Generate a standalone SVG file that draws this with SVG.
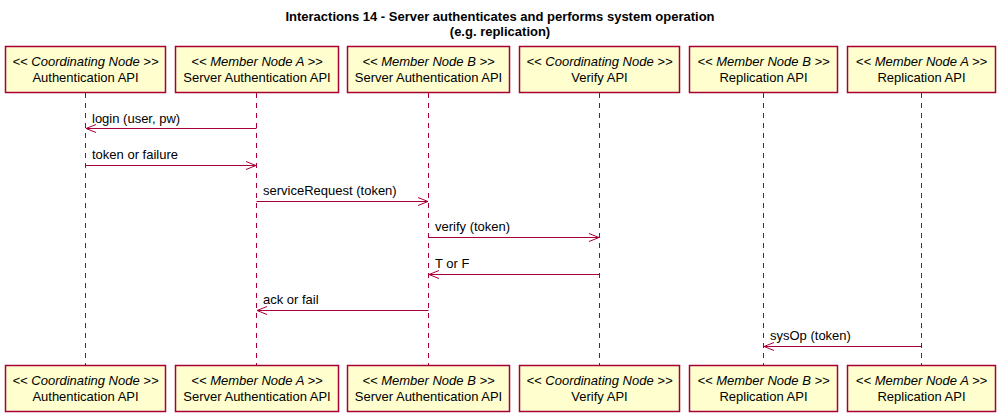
<svg xmlns="http://www.w3.org/2000/svg" width="1001" height="413" viewBox="0 0 1001 413">
<style>
.box{fill:#FEFECE;stroke:#A80036;stroke-width:1.5}
.life{stroke:#A80036;stroke-width:1;stroke-dasharray:5,5;fill:none}
.msg{stroke:#A80036;stroke-width:1;fill:none}
.t{font-family:"Liberation Sans",Arial,sans-serif;font-size:13px;fill:#000}
.c{text-anchor:middle}
.i{font-style:italic}
.title{font-family:"Liberation Sans",Arial,sans-serif;font-size:13px;font-weight:bold;text-anchor:middle;fill:#000}
</style>
<defs>
<marker id="ah" viewBox="0 0 12 10" refX="11" refY="5" markerWidth="12" markerHeight="10" markerUnits="userSpaceOnUse" orient="auto">
<path d="M1,1 L11,5 L1,9" fill="none" stroke="#A80036" stroke-width="1"/>
</marker>
</defs>
<rect width="1001" height="413" fill="#FFFFFF"/>
<text class="title" x="500" y="21">Interactions 14 - Server authenticates and performs system operation</text>
<text class="title" x="500" y="36">(e.g. replication)</text>

<g id="lifelines">
<line class="life" x1="85.5" y1="93" x2="85.5" y2="365"/>
<line class="life" x1="256.5" y1="93" x2="256.5" y2="365"/>
<line class="life" x1="428.5" y1="93" x2="428.5" y2="365"/>
<line class="life" x1="599.5" y1="93" x2="599.5" y2="365"/>
<line class="life" x1="763.5" y1="93" x2="763.5" y2="365"/>
<line class="life" x1="921.5" y1="93" x2="921.5" y2="365"/>
</g>

<g id="p1">
<rect class="box" x="5.5" y="46.5" width="160" height="46"/>
<text class="t c i" x="85.5" y="66">&lt;&lt; Coordinating Node &gt;&gt;</text>
<text class="t c" x="85.5" y="82">Authentication API</text>
<rect class="box" x="5.5" y="365.5" width="160" height="46"/>
<text class="t c i" x="85.5" y="385">&lt;&lt; Coordinating Node &gt;&gt;</text>
<text class="t c" x="85.5" y="401">Authentication API</text>
</g>
<g id="p2">
<rect class="box" x="175.5" y="46.5" width="163" height="46"/>
<text class="t c i" x="257" y="66">&lt;&lt; Member Node A &gt;&gt;</text>
<text class="t c" x="257" y="82">Server Authentication API</text>
<rect class="box" x="175.5" y="365.5" width="163" height="46"/>
<text class="t c i" x="257" y="385">&lt;&lt; Member Node A &gt;&gt;</text>
<text class="t c" x="257" y="401">Server Authentication API</text>
</g>
<g id="p3">
<rect class="box" x="347.5" y="46.5" width="162" height="46"/>
<text class="t c i" x="428.5" y="66">&lt;&lt; Member Node B &gt;&gt;</text>
<text class="t c" x="428.5" y="82">Server Authentication API</text>
<rect class="box" x="347.5" y="365.5" width="162" height="46"/>
<text class="t c i" x="428.5" y="385">&lt;&lt; Member Node B &gt;&gt;</text>
<text class="t c" x="428.5" y="401">Server Authentication API</text>
</g>
<g id="p4">
<rect class="box" x="519.5" y="46.5" width="160" height="46"/>
<text class="t c i" x="599.5" y="66">&lt;&lt; Coordinating Node &gt;&gt;</text>
<text class="t c" x="599.5" y="82">Verify API</text>
<rect class="box" x="519.5" y="365.5" width="160" height="46"/>
<text class="t c i" x="599.5" y="385">&lt;&lt; Coordinating Node &gt;&gt;</text>
<text class="t c" x="599.5" y="401">Verify API</text>
</g>
<g id="p5">
<rect class="box" x="689.5" y="46.5" width="148" height="46"/>
<text class="t c i" x="763.5" y="66">&lt;&lt; Member Node B &gt;&gt;</text>
<text class="t c" x="763.5" y="82">Replication API</text>
<rect class="box" x="689.5" y="365.5" width="148" height="46"/>
<text class="t c i" x="763.5" y="385">&lt;&lt; Member Node B &gt;&gt;</text>
<text class="t c" x="763.5" y="401">Replication API</text>
</g>
<g id="p6">
<rect class="box" x="847.5" y="46.5" width="148" height="46"/>
<text class="t c i" x="921.5" y="66">&lt;&lt; Member Node A &gt;&gt;</text>
<text class="t c" x="921.5" y="82">Replication API</text>
<rect class="box" x="847.5" y="365.5" width="148" height="46"/>
<text class="t c i" x="921.5" y="385">&lt;&lt; Member Node A &gt;&gt;</text>
<text class="t c" x="921.5" y="401">Replication API</text>
</g>

<g id="connectors">
<line class="msg" x1="256.5" y1="128.5" x2="86" y2="128.5" marker-end="url(#ah)"/>
<text class="t" x="92" y="123">login (user, pw)</text>
<line class="msg" x1="85.5" y1="165.5" x2="256" y2="165.5" marker-end="url(#ah)"/>
<text class="t" x="92" y="159">token or failure</text>
<line class="msg" x1="256.5" y1="201.5" x2="428" y2="201.5" marker-end="url(#ah)"/>
<text class="t" x="263" y="195">serviceRequest (token)</text>
<line class="msg" x1="428.5" y1="237.5" x2="599" y2="237.5" marker-end="url(#ah)"/>
<text class="t" x="435" y="231">verify (token)</text>
<line class="msg" x1="599.5" y1="274.5" x2="429" y2="274.5" marker-end="url(#ah)"/>
<text class="t" x="435" y="268">T or F</text>
<line class="msg" x1="428.5" y1="310.5" x2="257" y2="310.5" marker-end="url(#ah)"/>
<text class="t" x="263" y="304">ack or fail</text>
<line class="msg" x1="921.5" y1="346.5" x2="764" y2="346.5" marker-end="url(#ah)"/>
<text class="t" x="770" y="340">sysOp (token)</text>
</g>
</svg>
